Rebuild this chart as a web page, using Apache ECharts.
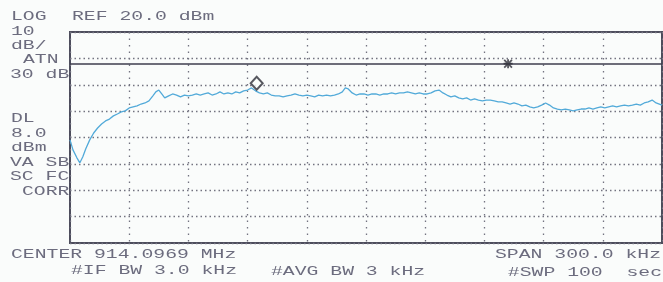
<!DOCTYPE html>
<html>
<head>
<meta charset="utf-8">
<script src="https://cdn.jsdelivr.net/npm/echarts@6/dist/echarts.min.js"></script>
<style>
  html, body { margin: 0; padding: 0; background: #fafcfb; }
  #main { width: 663px; height: 282px; }
</style>
</head>
<body>
<div id="main"></div>
<script>
/* spectrum analyzer trace, offset from center in kHz vs level in dBm */

const REF_LEVEL = 20;     // dBm, top of screen
const DB_PER_DIV = 10;
const DISPLAY_LINE = 8;   // DL 8.0 dBm

const freqOffset = [
  -150, -148.5, -146.5, -145, -143.5, -142, -140, -138, -136, -134, -132, -130, -128, -126, -124, -122,
  -120, -118, -116, -114, -112, -110, -108, -106.5, -105, -103.5, -102, -100, -98, -96, -94, -92, -90,
  -88, -86, -84, -82, -80, -78, -76, -74, -72, -70, -68, -66, -64, -62, -60, -58, -56, -54, -52, -50,
  -48, -46, -44, -42, -40, -38, -36, -34, -32, -30, -28, -26, -24, -22, -20, -18, -16, -14, -12, -10.5,
  -9, -7, -5, -3, -1, 1, 3, 5, 7, 9, 11, 13, 15, 17, 19, 21, 23, 25, 27, 29, 31, 33, 35, 37, 39, 41,
  43, 45, 47, 49, 51, 53, 55, 57, 59, 61, 63, 65, 67, 69, 71, 73, 75, 77, 79, 81, 83, 85, 87, 89, 91,
  93, 95, 97, 99, 101, 103, 105, 107, 109, 111, 113, 115, 117, 119, 121, 123, 125, 127, 129, 131, 133,
  135, 137, 139, 141, 143, 145, 147, 150
];
const levelDbm = [
  -20.9, -24.7, -27.7, -29.6, -27.3, -24.3, -20.9, -18.3, -16.4, -14.9, -13.7, -13.0, -11.8, -11.1, -10.3, -9.9,
  -8.8, -8.4, -8.0, -7.3, -6.9, -6.1, -4.2, -2.7, -2.0, -3.5, -5.0, -4.2, -3.5, -3.9, -4.6, -3.9, -4.2,
  -3.9, -3.5, -3.9, -3.5, -3.1, -3.9, -3.5, -2.7, -3.5, -3.1, -3.5, -2.7, -3.1, -2.3, -2.0, -1.2, -2.3, -3.1, -3.5, -3.1,
  -3.9, -4.2, -4.2, -4.6, -4.2, -3.9, -3.5, -3.9, -4.2, -3.9, -4.2, -4.6, -3.9, -4.2, -3.9, -4.2, -3.9, -3.5, -2.7, -1.2,
  -1.6, -3.1, -3.9, -3.5, -3.5, -3.9, -3.5, -3.5, -3.9, -3.5, -3.5, -3.1, -3.5, -3.1, -3.1, -2.7, -3.1, -3.5, -3.1, -3.5, -3.5, -3.1, -2.3, -2.0, -3.1, -3.9,
  -4.6, -4.2, -5.0, -5.4, -5.0, -5.8, -5.4, -5.8, -6.1, -5.8, -5.8, -6.1, -6.5, -6.5, -6.9, -7.3, -6.9, -7.3, -8.0, -7.7, -8.4, -8.8, -8.4, -7.7, -6.9,
  -7.7, -8.8, -9.2, -9.5, -9.2, -9.5, -9.9, -9.5, -9.2, -9.2, -8.8, -9.2, -8.8, -8.4, -8.8, -8.4, -8.0, -8.4, -8.0, -7.7, -8.0,
  -7.7, -7.3, -7.7, -6.9, -6.5, -5.8, -6.9, -7.7
];

// marker (diamond) and display line marker (star)
const markerFreq = -55.4, markerLevel = 0.6;
const dlMarkFreq = 72.0;

const leftLabels = ['LOG', '10', 'dB/', 'ATN', '30 dB', 'DL', '8.0', 'dBm', 'VA SB', 'SC FC', 'CORR'];
const refLabel = 'REF 20.0 dBm';
const bottomLabels = ['CENTER 914.0969 MHz', '#IF BW 3.0 kHz', '#AVG BW 3 kHz', 'SPAN 300.0 kHz', '#SWP 100  sec'];

const TEXT_COLOR = '#6c6c7e';
const FONT = '13px "Liberation Mono"';
const SX = 1.52;

function label(str, x, y, align) {
    return {
        type: 'text',
        x: x,
        y: y,
        scaleX: SX,
        silent: true,
        style: { text: str, font: FONT, fill: TEXT_COLOR, align: align || 'left', verticalAlign: 'middle' }
    };
}

let trace = freqOffset.map((f, i) => [f, levelDbm[i]]);

// layout of the annotation text (x of first char / right edge, y of cap middle)
let leftPos = [[11, 17], [11, 31.5], [11, 45.5], [23, 60], [10, 75], [11, 119], [11, 134], [11, 148], [10, 163], [10, 177], [22, 192]];
let bottomPos = [[11, 255, 'left'], [71, 270.5, 'left'], [271, 272, 'left'], [661, 255, 'right'], [662, 273, 'right']];

let graphic = [label(refLabel, 72, 17)];
leftLabels.forEach((t, i) => graphic.push(label(t, leftPos[i][0], leftPos[i][1])));
bottomLabels.forEach((t, i) => graphic.push(label(t, bottomPos[i][0], bottomPos[i][1], bottomPos[i][2])));

let option = {
    backgroundColor: '#fafcfb',
    animation: false,
    grid: {
        left: 70, top: 32, right: 1, bottom: 39,
        show: true,
        borderColor: '#4d4d5c',
        borderWidth: 2,
        backgroundColor: 'transparent'
    },
    xAxis: {
        type: 'value',
        min: -150, max: 150, interval: 30,
        axisLine: { show: false },
        axisTick: { show: false },
        axisLabel: { show: false },
        splitLine: { lineStyle: { color: '#737380', width: 1.3, type: [1.5, 5] } }
    },
    yAxis: {
        type: 'value',
        min: REF_LEVEL - 8 * DB_PER_DIV, max: REF_LEVEL, interval: DB_PER_DIV,
        axisLine: { show: false },
        axisTick: { show: false },
        axisLabel: { show: false },
        splitLine: { lineStyle: { color: '#737380', width: 1.3, type: [1.5, 3] } }
    },
    series: [
        {
            type: 'line',
            data: trace,
            symbol: 'none',
            lineStyle: { color: '#52aad9', width: 1.3 },
            z: 3,
            markLine: {
                silent: true,
                symbol: 'none',
                label: { show: false },
                lineStyle: { color: '#3e3e4e', width: 1.6, type: 'solid' },
                data: [{ yAxis: DISPLAY_LINE }]
            }
        },
        {
            type: 'scatter',
            data: [[markerFreq, markerLevel]],
            symbol: 'diamond',
            symbolSize: [12, 13],
            itemStyle: { color: '#fafcfb', borderColor: '#2e2e38', borderWidth: 2 },
            z: 5
        },
        {
            type: 'scatter',
            data: [[dlMarkFreq, DISPLAY_LINE]],
            symbol: 'path://M4,0h2v10h-2z M0,4h10v2h-10z M1.4,0l8.6,8.6l-1.4,1.4l-8.6,-8.6z M8.6,0l1.4,1.4l-8.6,8.6l-1.4,-1.4z',
            symbolSize: 9,
            itemStyle: { color: '#2e2e38' },
            z: 5
        }
    ],
    graphic: graphic
};

let chart = echarts.init(document.getElementById('main'));
chart.setOption(option);
</script>
</body>
</html>
